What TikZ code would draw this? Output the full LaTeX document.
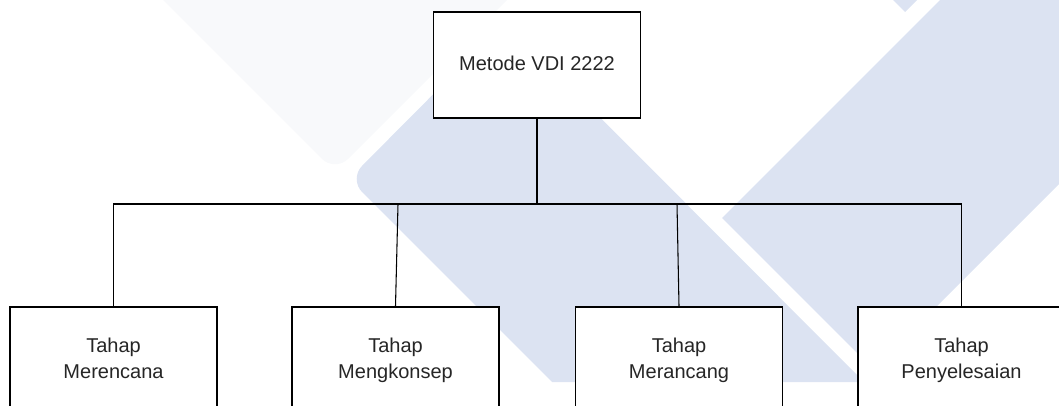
\documentclass[tikz,border=0pt]{standalone}
\usepackage{fontspec}
\setmainfont{Liberation Sans}
\definecolor{logoblue}{RGB}{220,227,242}
\definecolor{logogray}{RGB}{248,249,251}
\definecolor{textgray}{RGB}{38,38,38}
\begin{document}
\begin{tikzpicture}[x=0.75pt,y=-0.75pt]
\tikzstyle{every node}+=[inner sep=0pt, text=textgray, align=center, font=\fontsize{15}{19.5}\selectfont]
\tikzstyle{stage}=[draw=black, fill=white, line width=1.1pt, minimum width=155.25pt, minimum height=79.5pt,
  execute at begin node=\strut, execute at end node=\strut]
\tikzstyle{phase}=[stage, minimum height=82.5pt]
\tikzstyle{link}=[draw=black, line width=0.8pt]

\useasboundingbox (0,0) rectangle (1059,406);
\clip (0,0) rectangle (1059,406);

% watermark behind the chart
\fill [logogray, rounded corners=14pt] (143,-20) -- (335,172) -- (527,-20) -- cycle;
\fill [logoblue] (505,22) [rounded corners=14pt] -- (349,179) [sharp corners] -- (552,382) -- (864,382) -- cycle;
\fill [logoblue] (722,218) -- (960,-20) -- (1263,-20) -- (873.5,369.5) -- cycle;
\fill [logoblue] (881,-12) -- (905,12) -- (929,-12) -- cycle;

\node [stage] (metode) at (537,65) {Metode VDI 2222};

\node [phase] (merencana) at (113.5,362) {Tahap\\Merencana};
\node [phase] (mengkonsep) at (395.5,362) {Tahap\\Mengkonsep};
\node [phase] (merancang) at (679,362) {Tahap\\Merancang};
\node [phase] (penyelesaian) at (961.5,362) {Tahap\\Penyelesaian};

\coordinate (bus) at (537,204);
\coordinate (bus mengkonsep) at (398,204);
\coordinate (bus merancang) at (677,204);

\draw [link] (metode.south) -- (bus);
\draw [link] (merencana.north) -- (merencana.north |- bus) -- (penyelesaian.north |- bus) -- (penyelesaian.north);
\draw [link] (bus mengkonsep) -- (mengkonsep.north);
\draw [link] (bus merancang) -- (merancang.north);
\end{tikzpicture}
\end{document}
